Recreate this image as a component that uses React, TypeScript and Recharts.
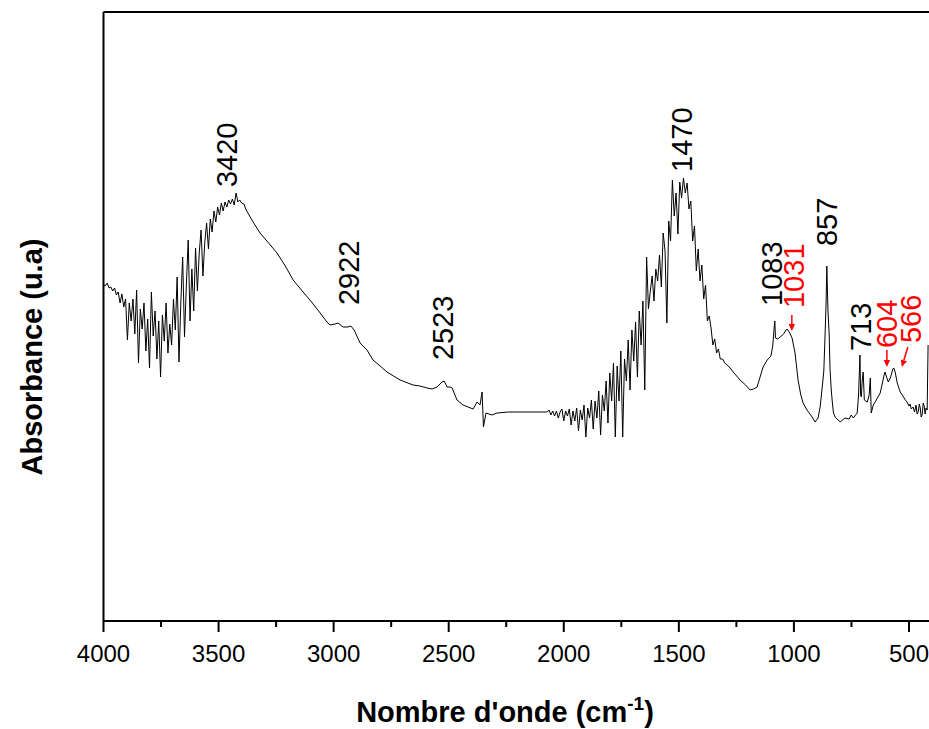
import { LineChart, Line, XAxis, YAxis, ReferenceLine, ReferenceDot } from 'recharts';

const FONT = '"Liberation Sans", Arial, Helvetica, sans-serif';
const RED = '#ff0000';

// spectre IR : [nombre d'onde (cm-1), absorbance (u.a, échelle arbitraire)]
// bande O-H, très bruitée
const ohBand: [number, number][] = [
  [4000, 337], [3992, 335], [3984, 338], [3976, 333], [3968, 334], [3960, 330], [3952, 333], [3944, 326],
  [3936, 329], [3928, 318], [3920, 327], [3912, 314], [3904, 322], [3896, 281], [3888, 318], [3880, 300],
  [3872, 322], [3864, 287], [3856, 331], [3848, 258], [3840, 312], [3832, 292], [3824, 318], [3816, 270],
  [3808, 302], [3800, 253], [3792, 329], [3784, 285], [3776, 310], [3768, 262], [3760, 300], [3752, 244],
  [3744, 306], [3736, 280], [3728, 318], [3720, 268], [3712, 297], [3704, 276], [3696, 322], [3688, 291],
  [3680, 344], [3672, 259], [3664, 318], [3656, 364], [3648, 284], [3640, 336], [3632, 381], [3624, 300],
  [3616, 352], [3608, 310], [3600, 373], [3592, 330], [3584, 368], [3576, 391], [3568, 345], [3560, 378],
  [3552, 398], [3544, 372], [3536, 402], [3528, 389], [3520, 410], [3512, 399], [3504, 414], [3496, 406],
  [3488, 418], [3480, 410], [3472, 419], [3464, 414], [3456, 421], [3448, 417], [3440, 422], [3432, 416],
  [3424, 428], [3416, 419], [3408, 421], [3400, 418], [3390, 417], [3380, 411],
];

// pente douce 3380 → 2070 (2922, 2523, artefact CO2)
const midRange: [number, number][] = [
  [3370, 407], [3350, 399], [3320, 388], [3290, 380], [3246, 368], [3210, 355], [3176, 341], [3140, 331],
  [3103, 321], [3065, 310], [3029, 299], [3016, 296], [2994, 297], [2981, 298], [2959, 294], [2938, 294],
  [2925, 295], [2911, 291], [2885, 278], [2855, 271], [2829, 261], [2798, 255], [2768, 249], [2740, 245],
  [2711, 241], [2655, 236], [2625, 235], [2594, 233], [2572, 232], [2551, 234], [2529, 239], [2520, 240],
  [2511, 236], [2507, 234], [2494, 234], [2485, 233], [2464, 221], [2438, 216], [2394, 212], [2377, 219],
  [2364, 216], [2355, 229], [2349, 194], [2338, 208], [2312, 206], [2290, 208], [2240, 209], [2177, 209],
  [2120, 209], [2080, 209],
];

// bande carbonate 1470, bruitée
const carbonateBand: [number, number][] = [
  [2072, 209], [2064, 211], [2056, 206], [2048, 210], [2040, 205], [2032, 210], [2024, 203], [2016, 209],
  [2008, 212], [2000, 200], [1992, 210], [1984, 205], [1976, 212], [1968, 196], [1960, 210], [1952, 200],
  [1944, 213], [1936, 190], [1928, 211], [1920, 201], [1912, 216], [1904, 184], [1896, 213], [1888, 203],
  [1880, 221], [1872, 192], [1864, 220], [1856, 203], [1848, 230], [1840, 186], [1832, 226], [1824, 210],
  [1816, 240], [1808, 198], [1800, 248], [1792, 220], [1784, 258], [1776, 184], [1768, 255], [1760, 220],
  [1752, 270], [1744, 184], [1736, 262], [1728, 240], [1720, 281], [1712, 231], [1704, 291], [1696, 260],
  [1688, 299], [1680, 244], [1672, 310], [1664, 276], [1656, 320], [1648, 231], [1640, 364], [1632, 312],
  [1624, 330], [1616, 345], [1608, 320], [1600, 352], [1592, 340], [1584, 366], [1576, 334], [1568, 388],
  [1560, 370], [1552, 298], [1544, 400], [1536, 380], [1528, 441], [1520, 405], [1512, 428], [1504, 387],
  [1496, 439], [1488, 423], [1480, 443], [1472, 428], [1464, 438], [1456, 412], [1448, 420], [1440, 380],
  [1432, 395], [1424, 350], [1416, 372], [1408, 340], [1400, 356], [1392, 322], [1384, 336], [1376, 300],
  [1368, 305], [1360, 293], [1352, 276], [1344, 282], [1336, 268], [1328, 272], [1320, 262], [1310, 262],
  [1300, 258], [1290, 256], [1277, 253], [1260, 248], [1234, 241], [1210, 236], [1190, 231], [1175, 232],
  [1160, 234],
];

// empreinte 1140 → 417
const fingerprint: [number, number][] = [
  [1134, 254], [1116, 261], [1100, 265], [1092, 275], [1087, 290], [1083, 300], [1080, 283], [1070, 282],
  [1060, 284], [1045, 287], [1031, 292], [1020, 289], [1008, 283], [995, 268], [982, 241], [970, 226],
  [960, 218], [943, 211], [921, 204], [908, 199], [895, 203], [886, 214], [876, 236], [870, 250],
  [864, 290], [860, 320], [857, 355], [852, 310], [847, 288], [843, 252], [838, 232], [834, 221],
  [828, 208], [821, 204], [799, 199], [778, 203], [760, 202], [751, 206], [742, 203], [725, 208],
  [719, 226], [713, 266], [710, 226], [707, 224], [703, 241], [699, 249], [694, 221], [681, 219],
  [673, 226], [668, 243], [664, 208], [655, 216], [647, 219], [625, 228], [608, 246], [604, 249],
  [596, 243], [590, 239], [581, 243], [570, 252], [566, 253], [560, 249], [551, 238], [538, 229],
  [529, 226], [516, 221], [508, 219], [500, 215], [495, 217], [490, 212], [482, 214], [476, 209],
  [469, 216], [465, 207], [460, 209], [455, 217], [451, 213], [447, 204], [443, 206], [438, 218],
  [434, 215], [430, 207], [426, 213], [421, 211], [417, 276],
];

const xTicks = [4000, 3750, 3500, 3250, 3000, 2750, 2500, 2250, 2000, 1750, 1500, 1250, 1000, 750, 500];

// étiquettes des pics (texte vertical, ancré en bas)
const peakText = ['3420', '2922', '2523', '1470', '1083', '1031', '857', '713', '604', '566'];
const peakTextWn = [3420, 2890, 2481, 1442, 1051, 956, 812, 664, 551, 447];
const peakTextAbs = [434, 316, 261, 449, 315, 313, 375, 270, 273, 278];
const peakHighlighted = [false, false, false, false, false, true, false, false, true, true];

// flèches rouges (pointe)
const arrowWn = [1009, 596, 531];
const arrowAbs = [290, 254, 254];
const ARROW_TAIL = [[0, -16], [0, -17], [6, -20]];

const spectrum = [...ohBand, ...midRange, ...carbonateBand, ...fingerprint].map(([wn, a]) => ({ wn, a }));

function WnTick({ x, y, payload }: any) {
  const major = payload.value % 500 === 0;
  return (
    <g>
      <line x1={x} y1={y} x2={x} y2={y + (major ? 11 : 6)} stroke="#000" strokeWidth={2} />
      {major && (
        <text x={x} y={y + 41} textAnchor="middle" fontSize={24} fontFamily={FONT} fill="#000">
          {payload.value}
        </text>
      )}
    </g>
  );
}

function PeakLabel({ cx, cy, text, red }: any) {
  return (
    <text
      x={cx}
      y={cy}
      transform={`rotate(-90 ${cx} ${cy})`}
      textAnchor="start"
      fontSize={29}
      fontFamily={FONT}
      fill={red ? RED : '#000'}
    >
      {text}
    </text>
  );
}

function Arrow({ cx, cy, dx, dy }: any) {
  const len = Math.hypot(dx, dy);
  const ux = -dx / len;
  const uy = -dy / len;
  const hl = 7;
  const hw = 3.2;
  const bx = cx - ux * hl;
  const by = cy - uy * hl;
  const px = -uy;
  const py = ux;
  return (
    <g>
      <line x1={cx + dx} y1={cy + dy} x2={bx} y2={by} stroke={RED} strokeWidth={1.5} />
      <polygon points={`${cx},${cy} ${bx + px * hw},${by + py * hw} ${bx - px * hw},${by - py * hw}`} fill={RED} />
    </g>
  );
}

export default function App() {
  return (
    <div style={{ position: 'absolute', left: 0, top: 0, width: 929, height: 729, background: '#fff' }}>
      <LineChart width={929} height={729} data={spectrum} margin={{ top: 12, right: 0, bottom: 0, left: 0 }}>
        <XAxis
          dataKey="wn"
          type="number"
          domain={[413, 4000]}
          reversed
          allowDataOverflow
          ticks={xTicks}
          interval={0}
          tick={<WnTick />}
          tickLine={false}
          tickSize={0}
          tickMargin={0}
          height={108}
          axisLine={{ stroke: '#000', strokeWidth: 2 }}
        />
        <YAxis
          type="number"
          domain={[0, 609]}
          allowDataOverflow
          width={103.5}
          tick={false}
          tickLine={false}
          axisLine={{ stroke: '#000', strokeWidth: 2 }}
        />
        <ReferenceLine y={609} stroke="#000" strokeWidth={2} />
        <Line type="linear" dataKey="a" stroke="#000" strokeWidth={1} dot={false} isAnimationActive={false} />
        {peakText.map((t, i) => (
          <ReferenceDot
            key={t}
            x={peakTextWn[i]}
            y={peakTextAbs[i]}
            r={0}
            shape={(p: any) => <PeakLabel cx={p.cx} cy={p.cy} text={t} red={peakHighlighted[i]} />}
          />
        ))}
        {arrowWn.map((w, i) => (
          <ReferenceDot
            key={'arrow' + w}
            x={w}
            y={arrowAbs[i]}
            r={0}
            shape={(p: any) => <Arrow cx={p.cx} cy={p.cy} dx={ARROW_TAIL[i][0]} dy={ARROW_TAIL[i][1]} />}
          />
        ))}
      </LineChart>
      <svg width={929} height={729} style={{ position: 'absolute', left: 0, top: 0, pointerEvents: 'none' }}>
        <text
          x={42}
          y={357}
          transform="rotate(-90 42 357)"
          textAnchor="middle"
          fontSize={29}
          fontWeight="bold"
          fontFamily={FONT}
          fill="#000"
        >
          Absorbance (u.a)
        </text>
        <text x={505} y={722} textAnchor="middle" fontSize={29} fontWeight="bold" fontFamily={FONT} fill="#000">
          Nombre d'onde (cm
          <tspan fontSize={19} dy={-12}>-1</tspan>
          <tspan dy={12}>)</tspan>
        </text>
      </svg>
    </div>
  );
}
